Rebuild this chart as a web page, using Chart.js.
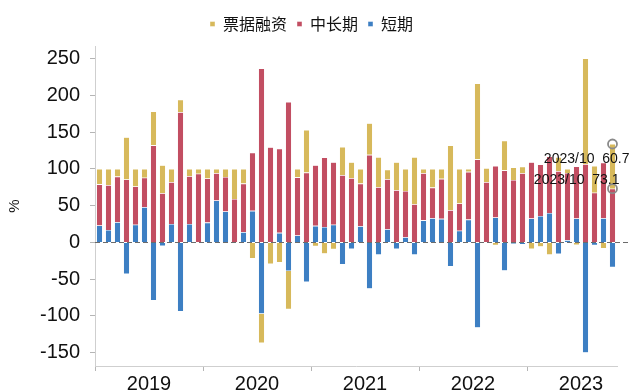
<!DOCTYPE html>
<html>
<head>
<meta charset="utf-8">
<script src="https://cdn.jsdelivr.net/npm/chart.js@4.4.0/dist/chart.umd.min.js"></script>
<style>
  html, body { margin: 0; padding: 0; background: #fff; }
</style>
</head>
<body>
<canvas id="myChart" width="633" height="390"></canvas>
<script>
// 月度新增贷款结构（%）：短期、中长期、票据融资
var years = ['2019', '2020', '2021', '2022', '2023'];
var lastMonth = '2023/10';

var shortTerm = [
	23, 17, 27.5, -43, 24, 48, -79, -5, 25, -94, 25, 0,
	27, 57, 42, 0, 14, 43, -97, 0, 13, -39, 9.5, -54,
	22.5, 21, 24, -30, -9, 22, -63, -17, 18, -9, 7, -17,
	30, 33, 32, -33, 16, 31, -116, -1, 34, -38.5, -2, -3,
	32.5, 36, 40, -16, 3, 32.5, -150, -4, 33, -33.8
];
var longTerm = [
	56, 61, 62, 85.5, 52, 40, 132, 67, 57, 177, 65, 93.5,
	60, 37, 47, 59, 66, 79, 236.5, 129.5, 114.5, 191, 79, 95,
	82.5, 94.5, 85, 91.5, 87.5, 58, 119, 75, 68, 71, 63, 52,
	64, 41.5, 54.5, 44, 37, 65, 113, 82, 70, 98, 85, 94,
	76.5, 70, 77, 97, 91.5, 71, 106.5, 67.5, 75.5, 73.1
];
var billFinance = [
	21, 22, 10.5, 57.5, 24, 12, 46, 38, 18, 17, 10, 6.5,
	13, 6, 11, 41, 20, -22, -40, -29.5, -27.5, -52, 11.5, 58,
	-5.5, -15.5, -9.5, 38.5, 21.5, 20, 43, 41, 13, 38, 30, 64,
	6, 25.5, 13.5, 88, 47, 4, 103, 19, -4, 40.5, 17, 9,
	-9, -6, -17, 19, 5.5, -3.5, 143.5, 36.5, -8.5, 60.7
];
var yTicks = [-150, -100, -50, 0, 50, 100, 150, 200, 250];

// 月份标签 2019/01 ... 2023/10
var months = [];
years.forEach(function(y) {
	for (var m = 1; m <= 12; m++) {
		if (months.length && months[months.length - 1] === lastMonth) return;
		months.push(y + '/' + (m < 10 ? '0' + m : m));
	}
});

var numFont = '"Liberation Sans", Arial, sans-serif';
var cnFont = '"Noto Sans CJK SC", sans-serif';

// 图例下方多留一点空
var legendGap = {
	id: 'legendGap',
	beforeInit: function(chart) {
		var fit = chart.legend.fit;
		chart.legend.fit = function() {
			fit.call(this);
			this.height += 4;
		};
	}
};

// 零轴虚线
var zeroLine = {
	id: 'zeroLine',
	afterDatasetsDraw: function(chart) {
		var ctx = chart.ctx;
		var area = chart.chartArea;
		var y = Math.round(chart.scales.y.getPixelForValue(0)) + 0.5;
		ctx.save();
		ctx.strokeStyle = '#6b6b6b';
		ctx.lineWidth = 1;
		ctx.setLineDash([5, 3]);
		ctx.beginPath();
		ctx.moveTo(area.left, y);
		ctx.lineTo(chart.width - 3, y);
		ctx.stroke();
		ctx.restore();
	}
};

// 最新一期的数据标注
var lastNote = {
	id: 'lastNote',
	afterDraw: function(chart) {
		var i = months.length - 1;
		var bar = chart.getDatasetMeta(2).data[i];
		var ys = chart.scales.y;
		var base = Math.max(shortTerm[i], 0);
		var longTop = base + longTerm[i];
		var billTop = longTop + billFinance[i];
		var ctx = chart.ctx;
		var x = bar.x;
		var y1 = ys.getPixelForValue(billTop);
		var y2 = ys.getPixelForValue(longTop);

		ctx.save();
		ctx.strokeStyle = '#8a8a8a';
		ctx.lineWidth = 1.8;
		[y1, y2].forEach(function(y) {
			ctx.beginPath();
			ctx.arc(x, y, 4.5, 0, Math.PI * 2);
			ctx.stroke();
		});
		ctx.fillStyle = '#111';
		ctx.font = '14px ' + numFont;
		ctx.textAlign = 'right';
		ctx.textBaseline = 'middle';
		ctx.fillText(months[i] + '  ' + billFinance[i].toFixed(1), x + 17, y1 + 15);
		ctx.fillText(months[i] + '  ' + longTerm[i].toFixed(1), x + 7, y2 - 8);
		ctx.restore();
	}
};

var ctx = document.getElementById('myChart').getContext('2d');

var myChart = new Chart(ctx, {
	type: 'bar',
	data: {
		labels: months,
		datasets: [
			{ label: '短期', data: shortTerm, backgroundColor: '#3d7fc3' },
			{ label: '中长期', data: longTerm, backgroundColor: '#c24e62' },
			{ label: '票据融资', data: billFinance, backgroundColor: '#d7b95b' }
		]
	},
	options: {
		responsive: false,
		animation: false,
		devicePixelRatio: 1,
		layout: { padding: { left: 6, right: 16, top: 6, bottom: 0 } },
		datasets: {
			bar: {
				barPercentage: 0.7,
				categoryPercentage: 1,
				borderWidth: 0.6,
				borderColor: 'rgba(255,255,255,0.7)'
			}
		},
		plugins: {
			legend: {
				position: 'top',
				reverse: true,
				labels: {
					boxWidth: 5,
					boxHeight: 5,
					padding: 10,
					color: '#111',
					font: { family: cnFont, size: 16 }
				}
			},
			tooltip: { enabled: false }
		},
		scales: {
			x: {
				stacked: true,
				grid: {
					offset: true,
					drawOnChartArea: false,
					tickLength: 5,
					color: function(c) { return c.index % 12 === 0 ? '#b5b5b5' : 'rgba(0,0,0,0)'; }
				},
				border: { color: '#cfcfcf' },
				ticks: {
					autoSkip: false,
					maxRotation: 0,
					labelOffset: 4.5,
					padding: 1,
					color: '#111',
					font: { family: numFont, size: 20 },
					callback: function(v, i) { return i % 12 === 5 ? months[i].slice(0, 4) : ''; }
				},
				afterFit: function(s) { s.height = 24; }
			},
			y: {
				stacked: true,
				min: -168,
				max: 267,
				afterBuildTicks: function(s) {
					s.ticks = yTicks.map(function(v) { return { value: v }; });
				},
				grid: { drawOnChartArea: false, tickLength: 5, color: '#b5b5b5' },
				border: { color: '#cfcfcf' },
				ticks: {
					padding: 10,
					color: '#111',
					font: { family: numFont, size: 20 }
				},
				title: {
					display: true,
					text: '%',
					color: '#111',
					font: { family: numFont, size: 15 },
					padding: 0
				},
				afterFit: function(s) { s.width = 89; }
			}
		}
	},
	plugins: [legendGap, zeroLine, lastNote]
});
</script>
</body>
</html>
